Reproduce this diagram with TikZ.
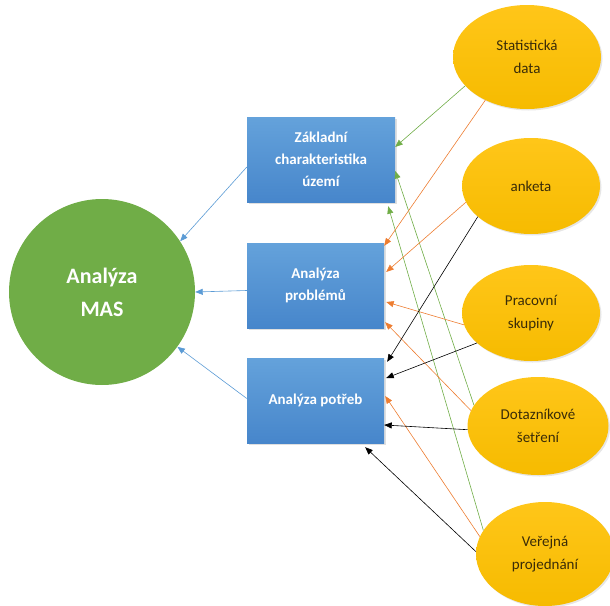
\documentclass[tikz,border=0pt]{standalone}
\usepackage{fontspec}
\setmainfont{Carlito}
\usetikzlibrary{arrows.meta,shapes.geometric,shadows}

\definecolor{boxtop}{HTML}{64A2DB}
\definecolor{boxbot}{HTML}{4786CB}
\definecolor{masgreen}{HTML}{70AD47}
\definecolor{ovaltop}{HTML}{FFC619}
\definecolor{ovalbot}{HTML}{F6BB00}
\definecolor{ovaltext}{HTML}{3A2C08}
\definecolor{arrblue}{HTML}{5B9BD5}
\definecolor{arrgreen}{HTML}{70AD47}
\definecolor{arrorange}{HTML}{ED7D31}

\tikzset{
  box/.style={rectangle, top color=boxtop, bottom color=boxbot, draw=none,
    minimum width=137pt, minimum height=85pt, align=center, text=white,
    font=\bfseries\fontsize{15}{22}\selectfont,
    drop shadow={shadow xshift=1.5pt, shadow yshift=-1.5pt, opacity=0.25}},
  oval/.style={ellipse, top color=ovaltop, bottom color=ovalbot, draw=none,
    minimum width=138pt, minimum height=96pt, inner sep=0pt, align=center,
    text=ovaltext, font=\fontsize{15}{23}\selectfont,
    drop shadow={shadow xshift=1.5pt, shadow yshift=-1.5pt, opacity=0.2}},
  arr/.style={line width=0.6pt, -{Triangle[length=7.5pt,width=6pt]}}
}

\begin{document}
\begin{tikzpicture}[x=1pt,y=-1pt]
  \useasboundingbox (0,0) rectangle (610,605);

  % main circle
  \node[circle, fill=masgreen, minimum size=186pt, inner sep=0pt, align=center,
    text=white, font=\bfseries\fontsize{22}{33}\selectfont] (mas) at (102,292) {Analýza\\MAS};

  % analyses
  \node[box, minimum width=148pt] (zakl) at (321,159.5) {Základní\\charakteristika\\území};
  \node[box] (probl) at (315.5,285.5) {Analýza\\problémů};
  \node[box] (potr) at (315.5,400.5) {Analýza potřeb};

  % sources
  \node[oval, minimum width=148pt, minimum height=104pt] (stat) at (527,57) {Statistická\\data};
  \node[oval] (anketa) at (531,186) {anketa};
  \node[oval] (prac) at (531,313) {Pracovní\\skupiny};
  \node[oval, minimum width=141pt, minimum height=98pt] (dotaz) at (538,426) {Dotazníkové\\šetření};
  \node[oval, minimum height=104pt] (verej) at (545,554) {Veřejná\\projednání};

  % to the circle
  \draw[arr, arrblue] ([yshift=-7.5pt]zakl.west) -- (mas.33);
  \draw[arr, arrblue] ([yshift=-5pt]probl.west) -- (mas.east);
  \draw[arr, arrblue] ([yshift=2pt]potr.west) -- (mas.-36);

  % green
  \draw[arr, arrgreen] (stat.205) -- ([yshift=12.5pt]zakl.east);
  \draw[arr, arrgreen] (dotaz.162) -- ([yshift=-11.5pt]zakl.east);
  \draw[arr, arrgreen] (verej.159) -- ([xshift=-7pt,yshift=-4pt]zakl.south east);

  % orange
  \draw[arr, arrorange] (stat.226) -- ([yshift=-3pt]probl.north east);
  \draw[arr, arrorange] (anketa.194) -- ([xshift=2pt,yshift=13.5pt]probl.east);
  \draw[arr, arrorange] (prac.190) -- ([xshift=2pt,yshift=-16.5pt]probl.east);
  \draw[arr, arrorange] (dotaz.167) -- ([xshift=1pt,yshift=6pt]probl.south east);
  \draw[arr, arrorange] (verej.165) -- ([xshift=1pt,yshift=4.5pt]potr.east);

  % black
  \draw[arr, black] (anketa.210) -- ([xshift=3pt,yshift=-4pt]potr.north east);
  \draw[arr, black] (prac.209) -- ([xshift=2pt,yshift=22.5pt]potr.east);
  \draw[arr, black] (dotaz.183) -- ([yshift=-24.5pt]potr.east);
  \draw[arr, black] (verej.178) -- ([xshift=-19pt,yshift=-4pt]potr.south east);
\end{tikzpicture}
\end{document}
